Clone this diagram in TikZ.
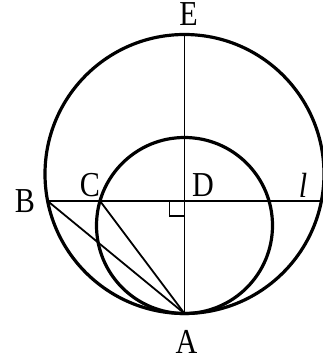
\documentclass[tikz,border=0pt]{standalone}
\usepackage{graphicx}
\usepackage{fontspec}
\setmainfont{Liberation Serif}
\newcommand\lbl[1]{\scalebox{0.86}[1]{#1}}
\begin{document}
\begin{tikzpicture}[x=1pt,y=-1pt,
  circ/.style={line width=3.2pt},
  seg/.style={line width=1.8pt},
  rightmark/.style={line width=1.7pt},
  lab/.style={inner sep=0pt,font=\fontsize{35}{35}\selectfont}]
\useasboundingbox (0,0) rectangle (323,361);
% key points
\coordinate (O) at (184.5,174);
\coordinate (Q) at (184.5,225.5);
\coordinate (E) at (184.5,34.5);
\coordinate (A) at (184.5,313.5);
\coordinate (D) at (184.5,201);
\coordinate (B) at (47.6,201);
\coordinate (R) at (321.4,201);
\coordinate (C) at (100,201);
% circles
\draw[circ] (O) circle (139.5);
\draw[circ] (Q) circle (88);
% lines
\draw[seg] (E) -- (A);
\draw[seg] (B) -- (R);
\draw[seg] (B) -- (A);
\draw[seg] (C) -- (A);
% right angle mark
\draw[rightmark] ([xshift=-15pt]D) -- ++(0,15) -- ++(15,0);
% labels
\node[lab] (lE) at (188.5,14.5) {\lbl{E}};
\node[lab] (lB) at (25,201) {\lbl{B}};
\node[lab] (lC) at (90,185) {\lbl{C}};
\node[lab] (lD) at (203,185) {\lbl{D}};
\node[lab] (ll) at (303,185) {\lbl{\itshape l}};
\node[lab] (lA) at (186.5,342) {\lbl{A}};
\end{tikzpicture}
\end{document}
